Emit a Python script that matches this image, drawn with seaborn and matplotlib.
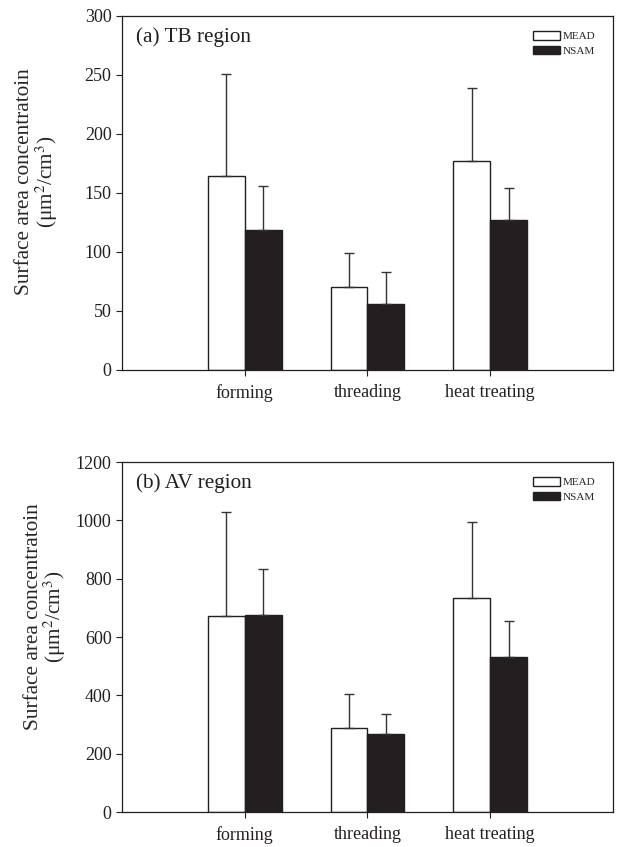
import numpy as np
import pandas as pd
import seaborn as sns
import matplotlib
matplotlib.use('Agg')
import matplotlib.pyplot as plt

# Values
processes = ['forming', 'threading', 'heat treating']
samplers = ['MEAD', 'NSAM']

tb_mead = [164, 70, 177]
tb_mead_sd = [87, 29, 62]
tb_nsam = [119, 56, 127]
tb_nsam_sd = [37, 27, 27]

av_mead = [672, 289, 735]
av_mead_sd = [358, 117, 258]
av_nsam = [675, 267, 531]
av_nsam_sd = [157, 69, 123]

panel_titles = ['(a) TB region', '(b) AV region']
y_limits = [(0, 300), (0, 1200)]
y_ticks = [np.arange(0, 301, 50), np.arange(0, 1201, 200)]
# where the y label sits in each panel (axes coords)
ylabel_xy = [(-0.172, 0.531), (-0.155, 0.557)]

sns.set_style('ticks')
plt.rcParams['font.family'] = ['Liberation Serif', 'DejaVu Serif']
plt.rcParams['mathtext.fontset'] = 'stix'

fig = plt.figure(figsize=(6.17, 8.47), dpi=100)
ax_a = fig.add_axes([0.1977, 0.5632, 0.7958, 0.4180])
ax_b = fig.add_axes([0.1977, 0.0413, 0.7958, 0.4132])

panels = [
    (ax_a, tb_mead, tb_mead_sd, tb_nsam, tb_nsam_sd),
    (ax_b, av_mead, av_mead_sd, av_nsam, av_nsam_sd),
]

for i, (ax, mead, mead_sd, nsam, nsam_sd) in enumerate(panels):
    df = pd.DataFrame({
        'process': processes * 2,
        'sampler': ['MEAD'] * 3 + ['NSAM'] * 3,
        'value': mead + nsam,
        'sd': mead_sd + nsam_sd,
    })
    sns.barplot(data=df, x='process', y='value', hue='sampler',
                order=processes, hue_order=samplers,
                palette={'MEAD': 'white', 'NSAM': '#231f20'},
                edgecolor='#231f20', linewidth=1.0, width=0.6,
                errorbar=None, saturation=1, ax=ax)

    # one-sided (upward) error bars on top of each bar
    for cont, sds in zip(ax.containers, [mead_sd, nsam_sd]):
        xs = [b.get_x() + b.get_width() / 2 for b in cont]
        tops = [b.get_height() for b in cont]
        ax.errorbar(xs, tops, yerr=[np.zeros(len(sds)), sds], fmt='none',
                    ecolor='#333333', elinewidth=1.0, capsize=3.6,
                    capthick=1.0, zorder=1)

    ax.set_xlim(-1, 3)
    ax.set_ylim(*y_limits[i])
    ax.set_yticks(y_ticks[i])
    ax.set_xlabel('')
    ax.set_ylabel('Surface area concentratoin\n(μm$^2$/cm$^3$)', fontsize=15.3,
                  linespacing=0.95)
    ax.yaxis.label.set_verticalalignment('center')
    ax.yaxis.set_label_coords(*ylabel_xy[i])
    ax.tick_params(axis='both', labelsize=13, direction='out', length=4,
                   width=0.8, colors='#231f20')
    ax.tick_params(axis='x', pad=6)
    for s in ax.spines.values():
        s.set_linewidth(0.9)
        s.set_color('#231f20')

    ax.text(0.0285, 0.94, panel_titles[i], transform=ax.transAxes,
            fontsize=15.3, va='center', ha='left', color='#231f20')

    handles, labels = ax.get_legend_handles_labels()
    ax.legend(handles, labels, loc='upper right', frameon=False, fontsize=8,
              handlelength=2.35, handleheight=0.8, labelspacing=0.4,
              handletextpad=0.3, borderaxespad=0.5,
              bbox_to_anchor=(0.985, 0.985))

fig.savefig('out.png', dpi=100)
